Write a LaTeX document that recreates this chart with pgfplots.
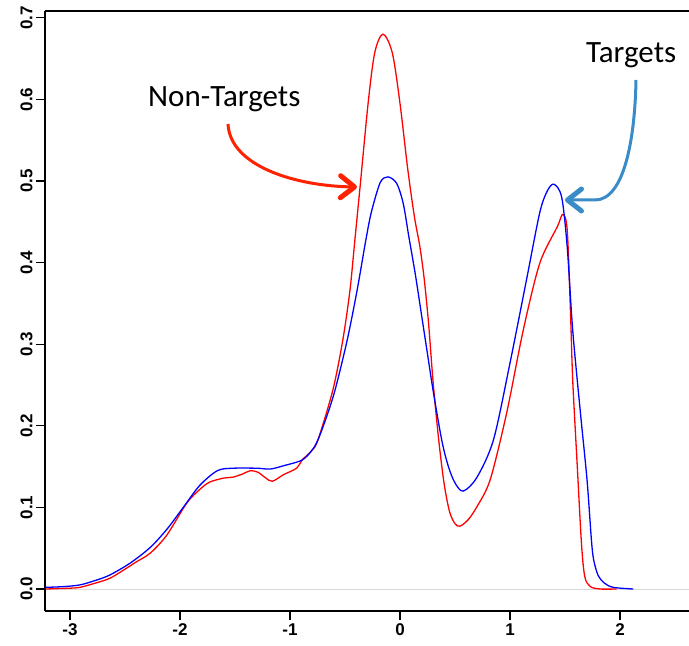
\documentclass[border=0pt]{standalone}
\usepackage{fontspec}
\setmainfont{Liberation Sans}
\newfontfamily\calibri{Carlito}
\usepackage{pgfplots}
\pgfplotsset{compat=1.18}
\usetikzlibrary{arrows.meta}
\definecolor{arrred}{RGB}{255,34,0}
\definecolor{arrblue}{RGB}{58,140,200}
\begin{document}
\begin{tikzpicture}
\begin{axis}[
  at={(0,0)}, anchor=south west,
  scale only axis, width=644pt, height=600pt,
  xmin=-3.227, xmax=2.627, ymin=-0.02696, ymax=0.7083,
  axis lines*=left,
  every non boxed x axis/.append style={x axis line style=-},
  every non boxed y axis/.append style={y axis line style=-},
  axis line style={line width=1.4pt},
  tick align=outside, major tick length=9pt,
  tick style={black, line width=1.2pt},
  xtick={-3,-2,-1,0,1,2}, xticklabels={-3,-2,-1,0,1,2},
  ytick={0,0.1,0.2,0.3,0.4,0.5,0.6,0.7},
  yticklabels={0.0,0.1,0.2,0.3,0.4,0.5,0.6,0.7},
  ticklabel style={font=\fontsize{17}{20}\selectfont\bfseries},
  yticklabel style={rotate=90, anchor=south},
  clip mode=individual,
]
\addplot[gray!30, line width=0.4pt] coordinates {(-3.22,0) (2.627,0)};
\addplot[red, line width=1.3pt, smooth, tension=0.5] coordinates {
(-3.22,0.000) (-3.0,0.001) (-2.91,0.002) (-2.8,0.006) (-2.64,0.013) (-2.48,0.026)
(-2.40,0.033) (-2.27,0.044) (-2.12,0.066) (-1.94,0.105) (-1.82,0.122) (-1.73,0.131)
(-1.60,0.136) (-1.52,0.137) (-1.43,0.141) (-1.36,0.145) (-1.29,0.143) (-1.22,0.136)
(-1.16,0.132) (-1.06,0.140) (-0.94,0.148) (-0.89,0.158) (-0.80,0.170) (-0.745,0.183)
(-0.61,0.244) (-0.52,0.305) (-0.455,0.366) (-0.41,0.428) (-0.36,0.497) (-0.29,0.595)
(-0.23,0.657) (-0.155,0.680) (-0.07,0.657) (0.0,0.595) (0.07,0.515) (0.13,0.457)
(0.18,0.420) (0.22,0.380) (0.26,0.325) (0.30,0.255) (0.35,0.185) (0.40,0.130)
(0.45,0.095) (0.50,0.080) (0.545,0.077) (0.62,0.085) (0.70,0.101) (0.82,0.134) (0.97,0.216)
(1.12,0.317) (1.27,0.399) (1.43,0.444) (1.48,0.459) (1.52,0.440) (1.55,0.338)
(1.57,0.256) (1.61,0.154) (1.65,0.055) (1.68,0.015) (1.73,0.003) (1.82,0.000) (1.97,0.000)
};
\addplot[blue, line width=1.3pt, smooth, tension=0.5] coordinates {
(-3.22,0.002) (-3.05,0.003) (-2.91,0.005) (-2.78,0.010) (-2.64,0.017) (-2.45,0.032)
(-2.27,0.051) (-2.12,0.073) (-1.97,0.100) (-1.82,0.127) (-1.66,0.145) (-1.52,0.148)
(-1.30,0.148) (-1.18,0.147) (-1.06,0.151) (-0.89,0.158) (-0.80,0.170) (-0.745,0.183)
(-0.67,0.210) (-0.59,0.244) (-0.48,0.305) (-0.39,0.366) (-0.31,0.428) (-0.26,0.462)
(-0.18,0.498) (-0.11,0.505) (-0.03,0.497) (0.03,0.472) (0.08,0.432) (0.14,0.385)
(0.20,0.332) (0.25,0.288) (0.30,0.244) (0.38,0.182) (0.44,0.150) (0.50,0.130) (0.575,0.120)
(0.70,0.137) (0.85,0.183) (1.00,0.277) (1.15,0.379) (1.27,0.461) (1.34,0.488)
(1.40,0.496) (1.47,0.480) (1.52,0.419) (1.57,0.317) (1.64,0.216) (1.70,0.134)
(1.74,0.060) (1.76,0.036) (1.80,0.017) (1.86,0.007) (1.94,0.002) (2.12,0.000)
};
\end{axis}
\draw[line width=1.4pt] (0,600pt) -- (644pt,600pt);
\node[font=\calibri\fontsize{31}{36}\selectfont, anchor=base west, inner sep=0pt] at (103pt,504pt) {Non-Targets};
\node[font=\calibri\fontsize{31}{36}\selectfont, anchor=base west, inner sep=0pt] at (541pt,548pt) {Targets};
\draw[arrred, line width=3pt, -{Straight Barb[length=14pt,width=22pt,line width=5pt,round]}]
  (183pt,487pt) .. controls (185pt,445pt) and (250pt,425pt) .. (312pt,424pt);
\draw[arrblue, line width=3pt, -{Straight Barb[length=14pt,width=22pt,line width=5pt,round]}]
  (591pt,531pt) .. controls (590pt,475pt) and (580pt,411pt) .. (550pt,411pt) -- (520pt,411pt);
\pgfresetboundingbox
\path (-45pt,-35pt) rectangle (644pt,611pt);
\end{tikzpicture}
\end{document}
